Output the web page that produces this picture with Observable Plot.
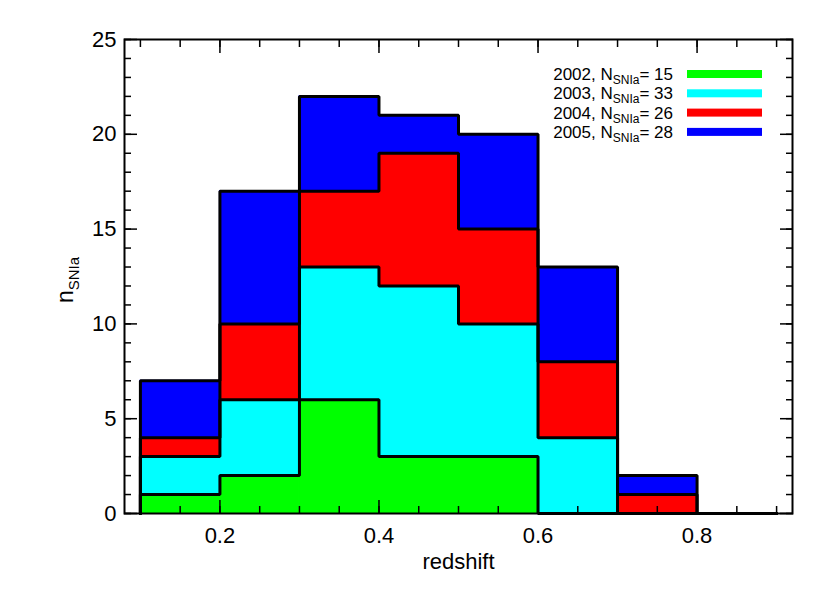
<!DOCTYPE html>
<html><head><meta charset="utf-8">
<script src="https://cdn.jsdelivr.net/npm/d3@7"></script>
<script src="https://cdn.jsdelivr.net/npm/@observablehq/plot@0.6"></script>
<style>body{margin:0;background:#fff} svg{display:block}</style>
</head><body><div id="chart"></div>
<script>
const binEdges = [0.1, 0.2, 0.3, 0.4, 0.5, 0.6, 0.7, 0.8, 0.9];
const years = ["2002", "2003", "2004", "2005"];
const colors = ["#00ff00", "#00ffff", "#ff0000", "#0000ff"];
const counts2002 = [1, 2, 6, 3, 3, 0, 0, 0];
const counts2003 = [2, 4, 7, 9, 7, 4, 0, 0];
const counts2004 = [1, 4, 4, 7, 5, 4, 1, 0];
const counts2005 = [3, 7, 5, 2, 5, 5, 1, 0];
const series = [counts2002, counts2003, counts2004, counts2005];
const xMajor = [0.2, 0.4, 0.6, 0.8];
const xMinor = [0.1, 0.15, 0.2, 0.25, 0.3, 0.35, 0.4, 0.45, 0.5, 0.55, 0.6, 0.65, 0.7, 0.75, 0.8, 0.85, 0.9];
const yMajor = [0, 5, 10, 15, 20, 25];
const yMinor = d3.range(0, 26);
const xLabel = "redshift";

// stacked rectangles and step outlines
const rects = [];
const steps = [];
const base = new Array(binEdges.length - 1).fill(0);
series.forEach((vals, s) => {
  const cum = vals.map((v, i) => base[i] + v);
  steps.push({year: years[s], x: binEdges[0], y: 0});
  vals.forEach((v, i) => {
    if (v > 0) rects.push({year: years[s], x1: binEdges[i], x2: binEdges[i + 1], y1: base[i], y2: cum[i]});
    steps.push({year: years[s], x: binEdges[i], y: cum[i]});
  });
  steps.push({year: years[s], x: binEdges[binEdges.length - 1], y: 0});
  cum.forEach((c, i) => base[i] = c);
});

const blank = () => "";
const plot = Plot.plot({
  width: 830, height: 593,
  marginLeft: 124, marginRight: 38, marginTop: 39, marginBottom: 80,
  x: {domain: [0.08, 0.92]},
  y: {domain: [0, 25]},
  color: {domain: years, range: colors},
  style: {fontFamily: "'Liberation Sans', Arial, sans-serif", fontSize: "22px", color: "#000", background: "#fff"},
  marks: [
    Plot.rect(rects, {x1: "x1", x2: "x2", y1: "y1", y2: "y2", fill: "year", stroke: "year", strokeWidth: 1}),
    Plot.line(steps, {x: "x", y: "y", z: "year", curve: "step-after", stroke: "#000", strokeWidth: 3, strokeLinejoin: "miter"}),
    Plot.axisX(xMinor, {anchor: "bottom", tickSize: -7, tickFormat: blank, label: null, strokeWidth: 1.5}),
    Plot.axisX(xMinor, {anchor: "top", tickSize: -7, tickFormat: blank, label: null, strokeWidth: 1.5}),
    Plot.axisX(xMajor, {anchor: "bottom", tickSize: -13, tickFormat: blank, label: null, strokeWidth: 1.5}),
    Plot.axisX(xMajor, {anchor: "top", tickSize: -13, tickFormat: blank, label: null, strokeWidth: 1.5}),
    Plot.axisY(yMinor, {anchor: "left", tickSize: -7, tickFormat: blank, label: null, strokeWidth: 1.5}),
    Plot.axisY(yMinor, {anchor: "right", tickSize: -7, tickFormat: blank, label: null, strokeWidth: 1.5}),
    Plot.axisY(yMajor, {anchor: "left", tickSize: -13, tickFormat: blank, label: null, strokeWidth: 1.5}),
    Plot.axisY(yMajor, {anchor: "right", tickSize: -13, tickFormat: blank, label: null, strokeWidth: 1.5}),
    Plot.axisX(xMajor, {anchor: "bottom", tickSize: 0, tickPadding: 14, tickFormat: d => d.toFixed(1), label: null, fontSize: 22}),
    Plot.axisY(yMajor, {anchor: "left", tickSize: 0, tickPadding: 8, tickFormat: d => String(d), label: null, fontSize: 22}),
    Plot.frame({stroke: "#000", strokeWidth: 2}),
    Plot.text([xLabel], {frameAnchor: "bottom", text: d => d, dy: 55, fontSize: 22})
  ]
});
document.getElementById("chart").appendChild(plot);

const svg = d3.select(plot);
// y axis label with subscript
const yl = svg.append("text")
  .attr("transform", "translate(73,280) rotate(-90)")
  .attr("text-anchor", "middle")
  .attr("font-family", "'Liberation Sans', Arial, sans-serif")
  .attr("font-size", 23)
  .attr("fill", "#000");
yl.append("tspan").text("n");
yl.append("tspan").attr("font-size", 15).attr("dy", 6).text("SNIa");

// legend
const lg = svg.append("g")
  .attr("font-family", "'Liberation Sans', Arial, sans-serif")
  .attr("fill", "#000");
years.forEach((yr, i) => {
  const yb = 80 + i * 19.3;
  const t = lg.append("text").attr("x", 673).attr("y", yb).attr("text-anchor", "end").attr("font-size", 17);
  t.append("tspan").text(yr + ", N");
  t.append("tspan").attr("font-size", 12).attr("dy", 4).text("SNIa");
  t.append("tspan").attr("dy", -4).text("= " + d3.sum(series[i]));
  lg.append("rect").attr("x", 687).attr("y", yb - 10).attr("width", 75).attr("height", 8).attr("fill", colors[i]);
});
</script>
</body></html>
